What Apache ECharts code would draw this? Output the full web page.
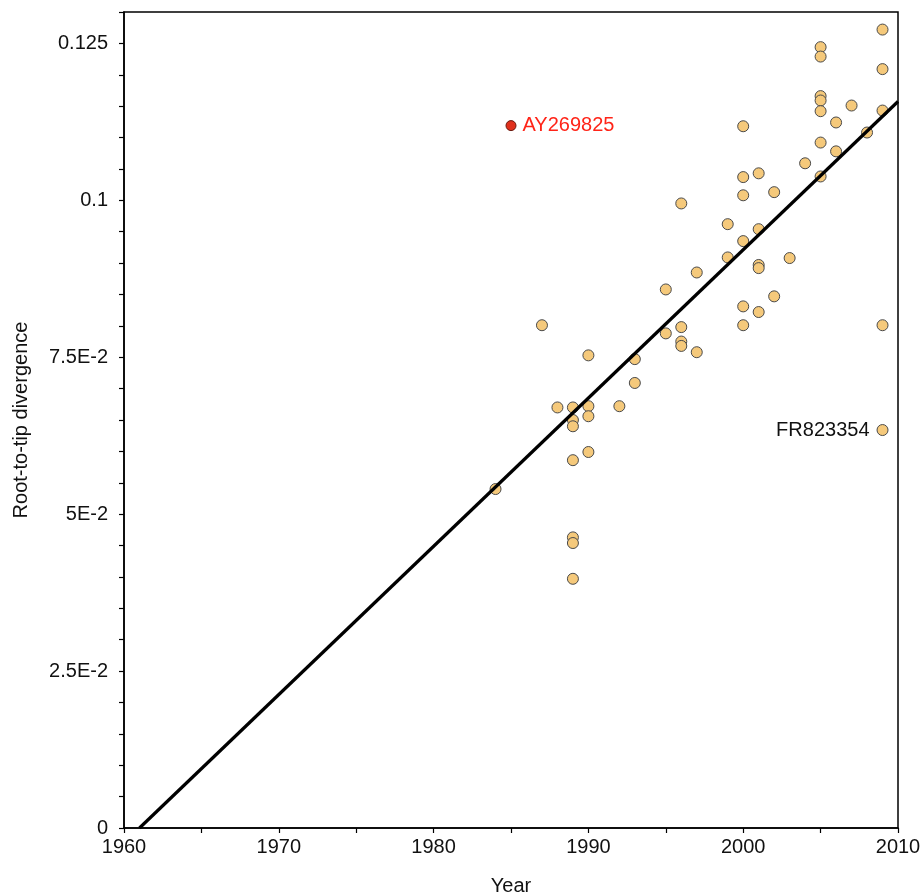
<!DOCTYPE html>
<html>
<head>
<meta charset="utf-8">
<script src="https://cdn.jsdelivr.net/npm/echarts@6/dist/echarts.min.js"></script>
<style>
html,body{margin:0;padding:0;background:#fff;}
#chart{width:922px;height:895px;}
</style>
</head>
<body>
<div id="chart"></div>
<script>
// Sample years and root-to-tip divergence
const years = [1984,1987,1988,1989,1989,1989,1989,1989,1989,1989,
  1990,1990,1990,1990,1992,1993,1993,1995,1995,1996,1996,1996,1996,
  1997,1997,1999,1999,2000,2000,2000,2000,2000,2000,
  2001,2001,2001,2001,2001,2002,2002,2003,2004,
  2005,2005,2005,2005,2005,2005,2005,2006,2006,2007,2008,
  2009,2009,2009,2009];
const divergence = [0.0540,0.0801,0.0670,0.0670,0.0650,0.0640,0.0586,0.0463,0.0454,0.0397,
  0.0753,0.0672,0.0656,0.0599,0.0672,0.0747,0.0709,0.0858,0.0788,0.0995,0.0798,0.0775,0.0768,
  0.0885,0.0758,0.0962,0.0909,0.1118,0.1037,0.1008,0.0935,0.0831,0.0801,
  0.1043,0.0954,0.0897,0.0892,0.0822,0.1013,0.0847,0.0908,0.1059,
  0.1244,0.1229,0.1166,0.1159,0.1142,0.1092,0.1038,0.1124,0.1078,0.1151,0.1108,
  0.1272,0.1209,0.1143,0.0801];
// Labelled tips
const labelledName = 'FR823354';
const labelledYear = 2009;
const labelledValue = 0.0634;
const outlierName = 'AY269825';
const outlierYear = 1985;
const outlierValue = 0.1119;
// Regression (root date and rate)
const rootYear = 1961.0;
const rate = 0.002362;
const endYear = 2010;
// Axis ticks
const xTickLabels = ['1960','1970','1980','1990','2000','2010'];
const yTickValues = [0, 0.025, 0.05, 0.075, 0.1, 0.125];
const yTickLabels = ['0','2.5E-2','5E-2','7.5E-2','0.1','0.125'];

const pts = years.map((y, i) => [y, divergence[i]]);
const font = '"Liberation Sans", Arial, Helvetica, sans-serif';
const txt = '#111';

const chart = echarts.init(document.getElementById('chart'), null, {renderer: 'canvas'});
chart.setOption({
  animation: false,
  backgroundColor: '#fff',
  grid: {left: 124, right: 24, top: 12, bottom: 67, show: true, borderColor: '#000', borderWidth: 1.5, outerBoundsMode: 'none', containLabel: false},
  xAxis: {
    type: 'value', min: 1960, max: 2010, interval: 5,
    name: 'Year', nameLocation: 'middle', nameGap: 48,
    nameTextStyle: {fontFamily: font, fontSize: 20, color: txt},
    axisLine: {lineStyle: {color: '#000', width: 1.5}},
    axisTick: {show: true, length: 5, lineStyle: {color: '#000', width: 1.2}},
    splitLine: {show: false},
    axisLabel: {
      fontFamily: font, fontSize: 20, color: txt, margin: 9,
      showMinLabel: true, showMaxLabel: true,
      formatter: v => { const i = xTickLabels.indexOf(String(Math.round(v))); return i >= 0 ? xTickLabels[i] : ''; }
    }
  },
  yAxis: {
    type: 'value', min: 0, max: 0.13, interval: 0.005,
    name: 'Root-to-tip divergence', nameLocation: 'middle', nameGap: 93, nameRotate: 90,
    nameTextStyle: {fontFamily: font, fontSize: 20, color: txt},
    axisLine: {lineStyle: {color: '#000', width: 1.5}},
    axisTick: {show: true, length: 5, lineStyle: {color: '#000', width: 1.2}},
    splitLine: {show: false},
    axisLabel: {
      fontFamily: font, fontSize: 20, color: txt, margin: 16,
      showMinLabel: true, showMaxLabel: true,
      formatter: v => {
        for (let i = 0; i < yTickValues.length; i++) {
          if (Math.abs(v - yTickValues[i]) < 1e-6) return yTickLabels[i];
        }
        return '';
      }
    }
  },
  series: [
    {
      type: 'scatter', symbol: 'circle', symbolSize: 11, z: 2,
      itemStyle: {color: '#F5C97B', borderColor: '#4a4a4a', borderWidth: 1, opacity: 1},
      data: pts.concat([{
        value: [labelledYear, labelledValue],
        label: {show: true, position: 'left', distance: 7, formatter: labelledName, fontFamily: font, fontSize: 20, color: txt}
      }])
    },
    {
      type: 'scatter', symbol: 'circle', symbolSize: 10, z: 2,
      itemStyle: {color: '#E0301C', borderColor: '#6a1a10', borderWidth: 1, opacity: 1},
      data: [{
        value: [outlierYear, outlierValue],
        label: {show: true, position: 'right', distance: 6, formatter: outlierName, fontFamily: font, fontSize: 20, color: '#FF2418'}
      }]
    },
    {
      type: 'line', symbol: 'none', z: 3, silent: true,
      lineStyle: {color: '#000', width: 3.2},
      data: [[rootYear, 0], [endYear, rate * (endYear - rootYear)]]
    }
  ]
});
</script>
</body>
</html>
